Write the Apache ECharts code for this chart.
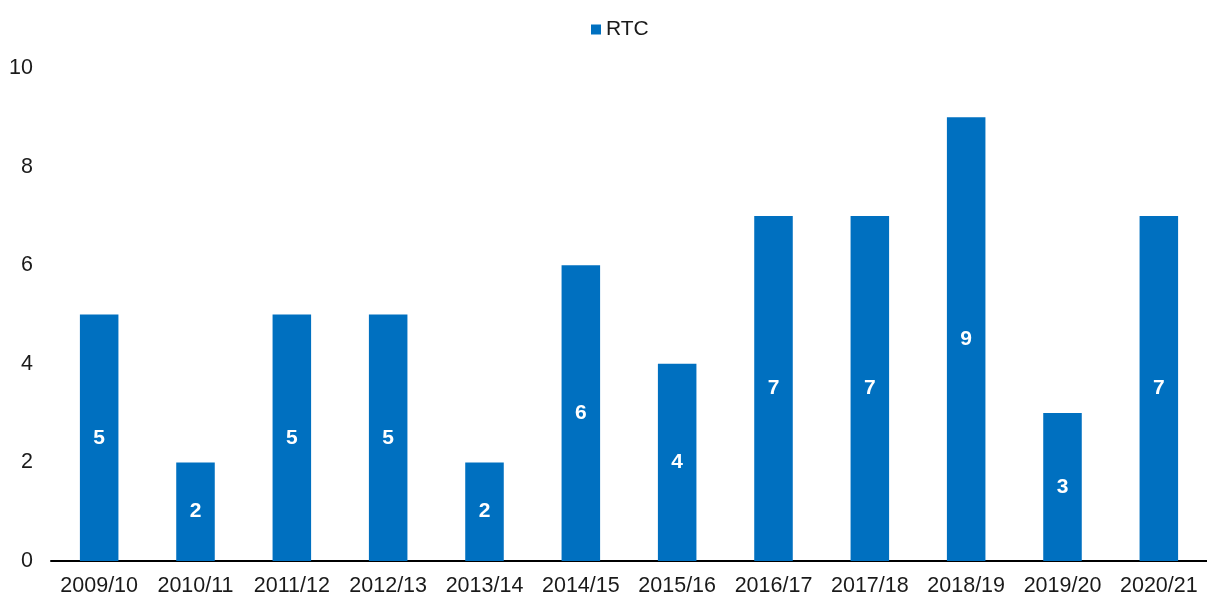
<!DOCTYPE html>
<html>
<head>
<meta charset="utf-8">
<script src="https://cdn.jsdelivr.net/npm/echarts@6/dist/echarts.min.js"></script>
<style>html,body{margin:0;padding:0;background:#fff}#c{width:1207px;height:597px}</style>
</head>
<body>
<div id="c"></div>
<script>
const categories = ['2009/10','2010/11','2011/12','2012/13','2013/14','2014/15','2015/16','2016/17','2017/18','2018/19','2019/20','2020/21'];
const rtcValues = [5,2,5,5,2,6,4,7,7,9,3,7];
const seriesName = 'RTC';

const chart = echarts.init(document.getElementById('c'));
chart.setOption({
  animation: false,
  textStyle: { fontFamily: 'Liberation Sans, Arial, sans-serif' },
  legend: {
    data: [seriesName],
    left: 586,
    top: 14,
    itemWidth: 10,
    itemHeight: 10,
    itemGap: 5,
    icon: 'rect',
    textStyle: { fontSize: 21, color: '#1a1a1a', fontFamily: 'Liberation Sans, Arial, sans-serif' }
  },
  grid: { left: 51, right: -2, top: 68, bottom: 36, containLabel: false },
  xAxis: {
    type: 'category',
    data: categories,
    axisLine: { lineStyle: { color: '#000', width: 2 } },
    axisTick: { show: false },
    axisLabel: { fontSize: 21.5, color: '#1a1a1a', margin: 14, interval: 0, fontFamily: 'Liberation Sans, Arial, sans-serif' }
  },
  yAxis: {
    type: 'value',
    min: 0, max: 10, interval: 2,
    splitLine: { show: false },
    axisLine: { show: false },
    axisTick: { show: false },
    axisLabel: { fontSize: 21.5, color: '#1a1a1a', margin: 18, fontFamily: 'Liberation Sans, Arial, sans-serif' }
  },
  series: [{
    name: seriesName,
    type: 'bar',
    data: rtcValues,
    barWidth: '40%',
    itemStyle: { color: '#0070C0' },
    label: {
      show: true,
      position: 'inside',
      color: '#fff',
      fontWeight: 'bold',
      fontSize: 21,
      fontFamily: 'Liberation Sans, Arial, sans-serif'
    }
  }]
});
</script>
</body>
</html>
